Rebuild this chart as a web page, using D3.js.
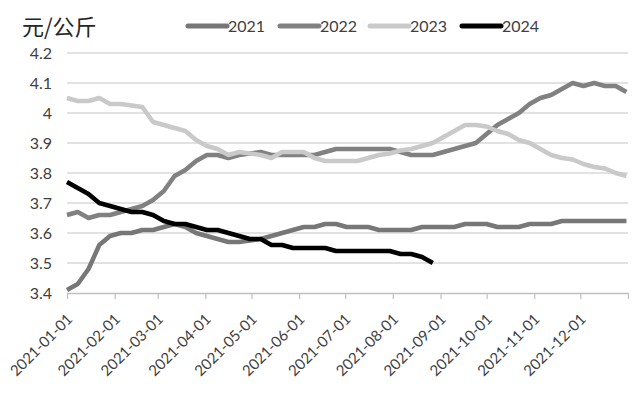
<!DOCTYPE html>
<html>
<head>
<meta charset="utf-8">
<script src="https://cdn.jsdelivr.net/npm/d3@7/dist/d3.min.js"></script>
<style>
  body { margin: 0; background: #fff; }
  text { font-family: Lato, "Liberation Sans", sans-serif; fill: #404040; }
</style>
</head>
<body>
<svg id="chart" width="636" height="393"></svg>
<script>
// weekly dates, all years drawn on the 2021 calendar
const dates = [
  '2021-01-01','2021-01-08','2021-01-15','2021-01-22','2021-01-29',
  '2021-02-05','2021-02-12','2021-02-19','2021-02-26',
  '2021-03-05','2021-03-12','2021-03-19','2021-03-26',
  '2021-04-02','2021-04-09','2021-04-16','2021-04-23','2021-04-30',
  '2021-05-07','2021-05-14','2021-05-21','2021-05-28',
  '2021-06-04','2021-06-11','2021-06-18','2021-06-25',
  '2021-07-02','2021-07-09','2021-07-16','2021-07-23','2021-07-30',
  '2021-08-06','2021-08-13','2021-08-20','2021-08-27',
  '2021-09-03','2021-09-10','2021-09-17','2021-09-24',
  '2021-10-01','2021-10-08','2021-10-15','2021-10-22','2021-10-29',
  '2021-11-05','2021-11-12','2021-11-19','2021-11-26',
  '2021-12-03','2021-12-10','2021-12-17','2021-12-24','2021-12-31'
];

const y2021 = [3.41,3.43,3.48,3.56,3.59,3.60,3.60,3.61,3.61,3.62,3.63,3.62,3.60,3.59,3.58,3.57,3.57,3.575,3.58,3.59,
  3.60,3.61,3.62,3.62,3.63,3.63,3.62,3.62,3.62,3.61,3.61,3.61,3.61,3.62,3.62,3.62,3.62,3.63,3.63,3.63,
  3.62,3.62,3.62,3.63,3.63,3.63,3.64,3.64,3.64,3.64,3.64,3.64,3.64];
const y2022 = [3.66,3.67,3.65,3.66,3.66,3.67,3.68,3.69,3.71,3.74,3.79,3.81,3.84,3.86,3.86,3.85,3.86,3.865,3.87,3.86,
  3.86,3.86,3.86,3.86,3.87,3.88,3.88,3.88,3.88,3.88,3.88,3.87,3.86,3.86,3.86,3.87,3.88,3.89,3.90,3.93,
  3.96,3.98,4.00,4.03,4.05,4.06,4.08,4.10,4.09,4.10,4.09,4.09,4.07];
const y2023 = [4.05,4.04,4.04,4.05,4.03,4.03,4.025,4.02,3.97,3.96,3.95,3.94,3.91,3.89,3.88,3.86,3.87,3.865,3.86,3.85,
  3.87,3.87,3.87,3.85,3.84,3.84,3.84,3.84,3.85,3.86,3.865,3.875,3.88,3.89,3.90,3.92,3.94,3.96,3.96,3.955,
  3.94,3.93,3.91,3.90,3.88,3.86,3.85,3.845,3.83,3.82,3.815,3.80,3.79];
const y2024 = [3.77,3.75,3.73,3.70,3.69,3.68,3.67,3.67,3.66,3.64,3.63,3.63,3.62,3.61,3.61,3.60,3.59,3.58,3.58,3.56,
  3.56,3.55,3.55,3.55,3.55,3.54,3.54,3.54,3.54,3.54,3.54,3.53,3.53,3.52,3.50];

const seriesNames = ['2021', '2022', '2023', '2024'];
const seriesColors = ['#777777', '#818181', '#c9c9c9', '#000000'];
const yTicks = [3.4, 3.5, 3.6, 3.7, 3.8, 3.9, 4.0, 4.1, 4.2];
const monthTicks = ['2021-01-01','2021-02-01','2021-03-01','2021-04-01','2021-05-01','2021-06-01',
  '2021-07-01','2021-08-01','2021-09-01','2021-10-01','2021-11-01','2021-12-01'];

const svg = d3.select('#chart');
const margin = { top: 53, right: 8, bottom: 100, left: 67 };
const width = 636 - margin.left - margin.right;
const height = 393 - margin.top - margin.bottom;
const parse = d3.timeParse('%Y-%m-%d');

const x = d3.scaleTime()
  .domain([parse('2021-01-01'), parse('2022-01-01')])
  .range([0, width]);
const y = d3.scaleLinear().domain([3.4, 4.2]).range([height, 0]);

const g = svg.append('g').attr('transform', `translate(${margin.left},${margin.top})`);

// gridlines
g.selectAll('.grid').data(yTicks.slice(1)).enter().append('line')
  .attr('x1', 0).attr('x2', width)
  .attr('y1', d => y(d)).attr('y2', d => y(d))
  .style('stroke', '#d9d9d9').style('stroke-width', 1.5);

// y labels
g.selectAll('.ylab').data(yTicks).enter().append('text')
  .attr('x', -15).attr('y', d => y(d)).attr('dy', '0.35em')
  .style('text-anchor', 'end').style('font-size', '16px')
  .text(d => d3.format('~g')(d));

// x axis
const xAxis = g.append('g')
  .attr('transform', `translate(0,${height})`)
  .call(d3.axisBottom(x)
    .tickValues(monthTicks.map(parse).concat([parse('2022-01-01')]))
    .tickSize(6).tickSizeOuter(0)
    .tickFormat(d => d.getFullYear() === 2022 ? '' : d3.timeFormat('%Y-%m-%d')(d)));
xAxis.select('.domain').style('stroke', '#bfbfbf').style('stroke-width', 1.5);
xAxis.selectAll('.tick line').style('stroke', '#bfbfbf').style('stroke-width', 1.2);
xAxis.selectAll('.tick text')
  .style('font-size', '15px').style('font-family', 'Lato, sans-serif').style('fill', '#404040')
  .style('text-anchor', 'end')
  .attr('x', 0).attr('y', 0).attr('dy', 0)
  .attr('transform', 'translate(6,27) rotate(-45)');

// lines
const allSeries = [y2021, y2022, y2023, y2024];
const line = d3.line()
  .x((d, i) => x(parse(dates[i])))
  .y(d => y(d));

allSeries.forEach((vals, k) => {
  g.append('path')
    .datum(vals)
    .attr('d', line)
    .style('fill', 'none')
    .style('stroke', seriesColors[k])
    .style('stroke-width', 4.5)
    .style('stroke-linejoin', 'round');
});

// unit label
svg.append('text')
  .attr('x', 22).attr('y', 35)
  .style('font-family', '"Noto Sans CJK SC", sans-serif')
  .style('font-size', '22px').style('fill', '#262626')
  .text('元/公斤');

// legend
const legendX = [188, 280, 370, 462];
seriesNames.forEach((name, k) => {
  const lg = svg.append('g').attr('transform', `translate(${legendX[k]},26)`);
  lg.append('line').attr('x1', 0).attr('x2', 39).attr('y1', 0).attr('y2', 0)
    .style('stroke', seriesColors[k]).style('stroke-width', 5).style('stroke-linecap', 'round');
  lg.append('text').attr('x', 40).attr('y', 0).attr('dy', '0.35em')
    .style('font-size', '16px').text(name);
});
</script>
</body>
</html>
